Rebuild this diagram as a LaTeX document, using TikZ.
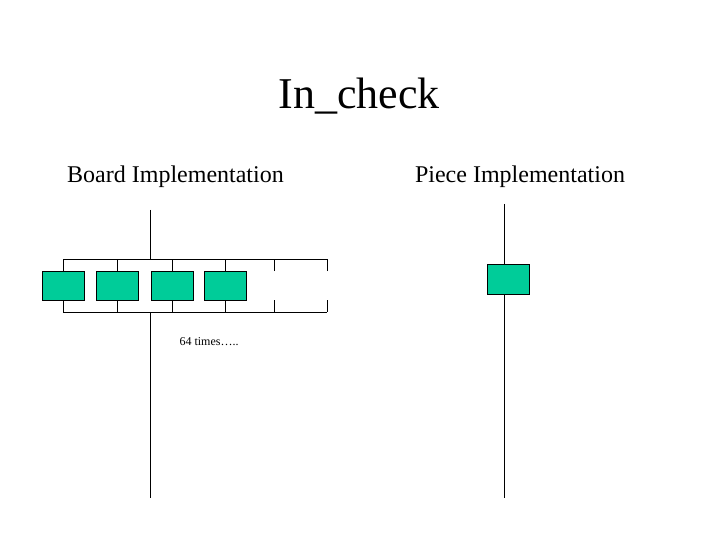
\documentclass[tikz,border=0pt]{standalone}
\usepackage{fontspec}
\setmainfont{Liberation Serif}
\usepackage{tikz}
\usetikzlibrary{positioning}
\definecolor{slotgreen}{RGB}{0,204,153}

\begin{document}
\begin{tikzpicture}[x=1pt, y=-1pt, line width=1pt,
    square/.style={draw, fill=slotgreen, minimum width=42pt, minimum height=29pt, inner sep=0pt}]

    \useasboundingbox (0,0) rectangle (720,540);

    % Titles
    \node at (359,109) (title) [anchor=base] {\fontsize{44}{48}\selectfont In\_check};
    \node at (175.5,183) (board) [anchor=base] {\fontsize{24}{28}\selectfont Board Implementation};
    \node at (520,183) (piece) [anchor=base] {\fontsize{24}{28}\selectfont Piece Implementation};

    % Board: squares
    \node at (63,285.5) (sq1) [square] {};
    \node at (117.5,285.5) (sq2) [square] {};
    \node at (172,285.5) (sq3) [square] {};
    \node at (225.5,285.5) (sq4) [square] {};
    \coordinate (sq5top) at (274,271);
    \coordinate (sq5bot) at (274,300);
    \coordinate (sq6top) at (327,271);
    \coordinate (sq6bot) at (327,300);
    \node at (209,342) (times) {\fontsize{12}{14}\selectfont 64 times\ldots..};

    % Board: buses
    \coordinate (topbus) at (150.5,259);
    \coordinate (botbus) at (150.5,312);
    \coordinate (boardtop) at (150.5,210);
    \coordinate (boardend) at (150.5,498);
    \draw (sq1.north |- topbus) -- (sq6top |- topbus);
    \draw (sq1.south |- botbus) -- (sq6bot |- botbus);
    \foreach \s in {sq1,sq2,sq3,sq4} {
        \draw (\s.north) -- (\s.north |- topbus);
        \draw (\s.south) -- (\s.south |- botbus);
    }
    \foreach \s in {sq5,sq6} {
        \draw (\s top) -- (\s top |- topbus);
        \draw (\s bot) -- (\s bot |- botbus);
    }
    \draw (boardtop) -- (topbus);
    \draw (botbus) -- (boardend);

    % Piece
    \coordinate (piecetop) at (504,204);
    \coordinate (pieceend) at (504,498);
    \draw (piecetop) -- (pieceend);
    \node at (508,279) (pc) [square, minimum height=30pt] {};

\end{tikzpicture}
\end{document}
